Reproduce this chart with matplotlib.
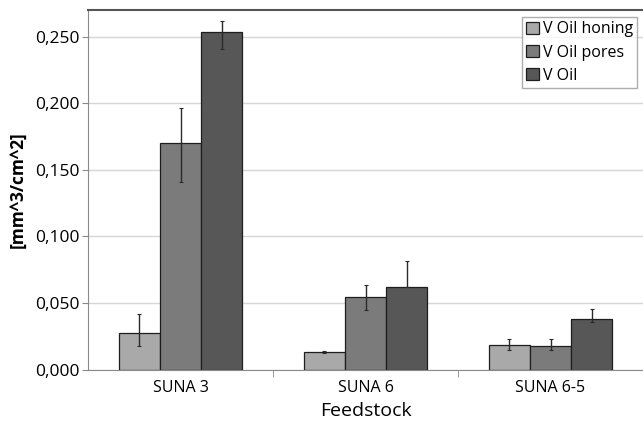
import numpy as np
import matplotlib.pyplot as plt
from matplotlib.ticker import FuncFormatter, FixedLocator

plt.rcParams['font.family'] = ['Open Sans', 'DejaVu Sans']

categories = ['SUNA 3', 'SUNA 6', 'SUNA 6-5']
series = ['V Oil honing', 'V Oil pores', 'V Oil']
colors = ['#a9a9a9', '#7b7b7b', '#575757']

honing = [0.0274, 0.0131, 0.0186]
pores = [0.1700, 0.0549, 0.0180]
oil = [0.2534, 0.0620, 0.0381]

# error bars (lower, upper)
honing_err = [[0.0094, 0.0006, 0.0038], [0.0146, 0.0009, 0.0042]]
pores_err = [[0.0294, 0.0098, 0.0032], [0.0265, 0.0088, 0.0048]]
oil_err = [[0.0124, 0.0, 0.0020], [0.0086, 0.0195, 0.0075]]

values = [honing, pores, oil]
errors = [honing_err, pores_err, oil_err]

fig = plt.figure(figsize=(6.43, 4.28), dpi=100)
ax = fig.add_axes([0.137, 0.136, 0.863, 0.841])

x = np.arange(len(categories))
w = 0.223
for i, (vals, errs) in enumerate(zip(values, errors)):
    ax.bar(x + (i - 1) * w, vals, width=w, color=colors[i], edgecolor='#1e1e1e',
           linewidth=0.9, label=series[i], zorder=2,
           yerr=errs, error_kw=dict(ecolor='#2a2a2a', elinewidth=1.0, capsize=1.5, capthick=0.8))

ax.set_xlim(-0.5, 2.5)
ax.set_ylim(0, 0.27)
ax.set_yticks(np.arange(0, 0.251, 0.05))
ax.yaxis.set_major_formatter(FuncFormatter(lambda v, p: f"{v:.3f}".replace('.', ',')))
ax.grid(axis='y', color='#d6d6d6', linewidth=1.0, zorder=0)
ax.set_axisbelow(True)

ax.set_xticks(x)
ax.set_xticklabels(categories, fontsize=11.5)
ax.xaxis.set_minor_locator(FixedLocator([0.5, 1.5]))
ax.tick_params(axis='x', which='major', length=0, pad=7)
ax.tick_params(axis='x', which='minor', length=5, color='#888888')
ax.tick_params(axis='y', labelsize=12.5, length=4, color='#888888', pad=2)

for side in ['left', 'bottom']:
    ax.spines[side].set_color('#8a8a8a')
ax.spines['top'].set_color('#555555')
ax.spines['top'].set_linewidth(1.5)
ax.spines['right'].set_visible(False)

ax.set_ylabel('[mm^3/cm^2]', fontsize=12.5, fontweight='bold', labelpad=6)
ax.set_xlabel('Feedstock', fontsize=14, labelpad=5)

leg = ax.legend(loc='upper right', bbox_to_anchor=(0.995, 0.988), fontsize=11.5,
                frameon=True, fancybox=False, handlelength=0.8, handleheight=0.8,
                handletextpad=0.25, borderpad=0.25, labelspacing=0.45, borderaxespad=0.2)
leg.get_frame().set_edgecolor('#999999')
leg.get_frame().set_linewidth(1.0)

fig.savefig('out.png', dpi=100)
